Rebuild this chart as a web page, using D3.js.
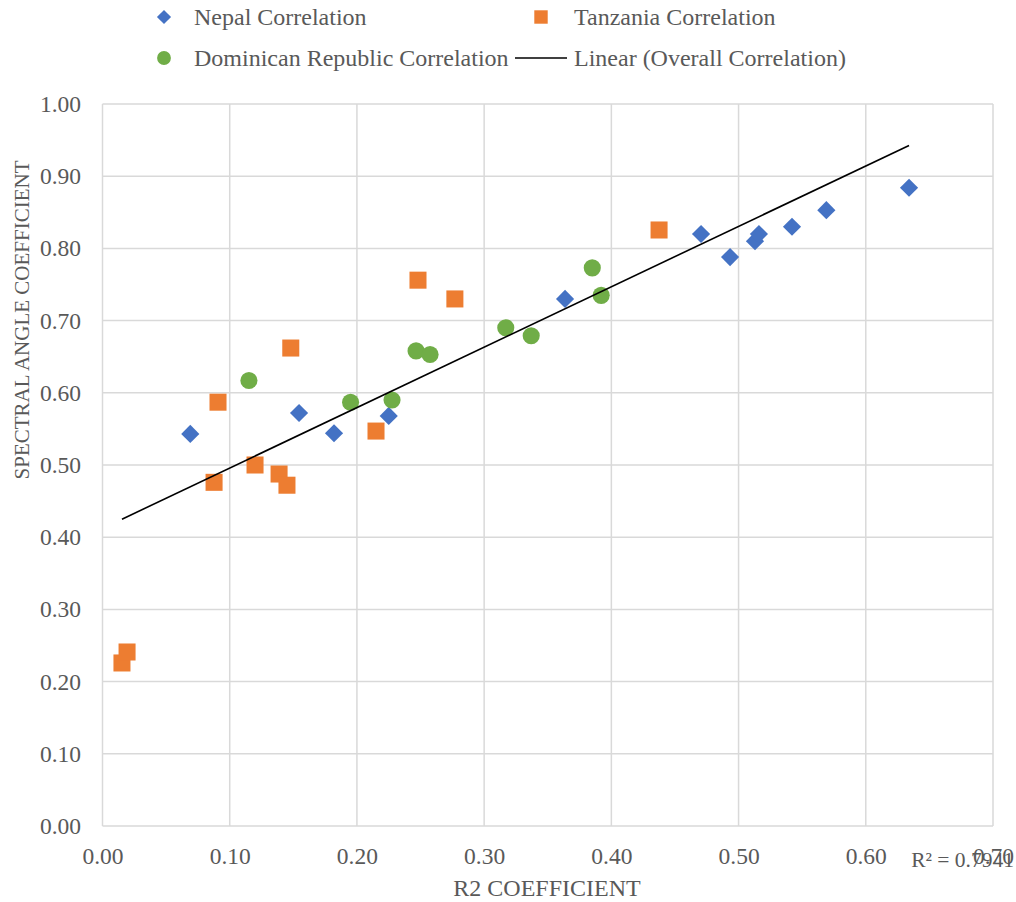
<!DOCTYPE html>
<html><head><meta charset="utf-8">
<script src="https://cdn.jsdelivr.net/npm/d3@7"></script>
<style>
html,body{margin:0;padding:0;background:#fff;}
svg text{font-family:"Liberation Serif","Times New Roman",serif;}
</style></head>
<body>
<svg id="chart" width="1016" height="902"></svg>
<script>
const nepalX = [0.069,0.1545,0.182,0.225,0.3636,0.4705,0.4933,0.5129,0.516,0.542,0.569,0.634];
const nepalY = [0.543,0.572,0.544,0.568,0.730,0.820,0.788,0.810,0.820,0.830,0.853,0.884];
const tanzX = [0.0153,0.0193,0.0877,0.0908,0.1199,0.1388,0.145,0.148,0.215,0.248,0.277,0.4375];
const tanzY = [0.2258,0.241,0.476,0.587,0.500,0.4875,0.472,0.662,0.547,0.756,0.730,0.8255];
const domX = [0.1151,0.195,0.2276,0.2465,0.2575,0.317,0.337,0.385,0.392];
const domY = [0.617,0.587,0.590,0.658,0.653,0.690,0.679,0.773,0.735];
const xTicks = [0,0.1,0.2,0.3,0.4,0.5,0.6,0.7];
const yTicks = [0,0.1,0.2,0.3,0.4,0.5,0.6,0.7,0.8,0.9,1.0];
const seriesNames = ["Nepal Correlation","Tanzania Correlation","Dominican Republic Correlation","Linear (Overall Correlation)"];
const rSquaredLabel = "R² = 0.7941";
const xTitle = "R2 COEFFICIENT";
const yTitle = "SPECTRAL ANGLE COEFFICIENT";

const colors = {nepal:"#4472C4", tanz:"#ED7D31", dom:"#70AD47"};
const svg = d3.select("#chart");
const L=102.5, R=993, T=104, B=826;
const x = d3.scaleLinear().domain([0,0.7]).range([L,R]);
const y = d3.scaleLinear().domain([0,1]).range([B,T]);
const fmt = d3.format(".2f");

// gridlines
const g = svg.append("g");
g.selectAll("line.h").data(yTicks).join("line")
  .attr("x1",L).attr("x2",R).attr("y1",d=>y(d)).attr("y2",d=>y(d))
  .attr("stroke","#d9d9d9").attr("stroke-width",1.5);
g.selectAll("line.v").data(xTicks).join("line")
  .attr("y1",T).attr("y2",B).attr("x1",d=>x(d)).attr("x2",d=>x(d))
  .attr("stroke","#d9d9d9").attr("stroke-width",1.5);

// axes labels via d3 axes
const yAxis = svg.append("g").attr("transform",`translate(${L},0)`)
  .call(d3.axisLeft(y).tickValues(yTicks).tickFormat(fmt).tickSize(0).tickPadding(21.5));
yAxis.select(".domain").remove();
yAxis.selectAll("text").attr("font-size",23.5).attr("fill","#595959");
const xAxis = svg.append("g").attr("transform",`translate(0,${B})`)
  .call(d3.axisBottom(x).tickValues(xTicks).tickFormat(fmt).tickSize(0).tickPadding(21));
xAxis.select(".domain").remove();
xAxis.selectAll("text").attr("font-size",23.5).attr("fill","#595959");

// trendline (least squares over all points)
const allX = nepalX.concat(tanzX, domX);
const allY = nepalY.concat(tanzY, domY);
const mx = d3.mean(allX), my = d3.mean(allY);
let sxy=0,sxx=0;
allX.forEach((v,i)=>{sxy+=(v-mx)*(allY[i]-my);sxx+=(v-mx)*(v-mx);});
const slope=sxy/sxx, icpt=my-slope*mx;
const xMin=d3.min(allX), xMax=d3.max(allX);
const trend=[[xMin,icpt+slope*xMin],[xMax,icpt+slope*xMax]];

// markers
const diamond = d3.symbol().type(d3.symbolSquare).size(165);
const square = d3.symbol().type(d3.symbolSquare).size(290);
const circle = d3.symbol().type(d3.symbolCircle).size(230);
svg.append("g").selectAll("path").data(nepalX.map((v,i)=>[v,nepalY[i]])).join("path")
  .attr("d",diamond).attr("fill",colors.nepal)
  .attr("transform",d=>`translate(${x(d[0])},${y(d[1])}) rotate(45)`);
svg.append("g").selectAll("path").data(tanzX.map((v,i)=>[v,tanzY[i]])).join("path")
  .attr("d",square).attr("fill",colors.tanz)
  .attr("transform",d=>`translate(${x(d[0])},${y(d[1])})`);
svg.append("g").selectAll("path").data(domX.map((v,i)=>[v,domY[i]])).join("path")
  .attr("d",circle).attr("fill",colors.dom)
  .attr("transform",d=>`translate(${x(d[0])},${y(d[1])})`);

svg.append("path").datum(trend)
  .attr("d",d3.line().x(d=>x(d[0])).y(d=>y(d[1])))
  .attr("stroke","#000").attr("stroke-width",1.6).attr("fill","none");

// R² label
svg.append("text").attr("x",1014).attr("y",867).attr("text-anchor","end")
  .attr("font-size",21.5).attr("fill","#595959").text(rSquaredLabel);

// axis titles
svg.append("text").attr("x",547).attr("y",896).attr("text-anchor","middle")
  .attr("font-size",24).attr("fill","#595959").text(xTitle);
svg.append("text").attr("transform","translate(29,320) rotate(-90)").attr("text-anchor","middle")
  .attr("font-size",21).attr("fill","#595959").text(yTitle);

// legend
const leg = svg.append("g");
const legItems = [
  {name:seriesNames[0], sx:164, tx:194, y:17, kind:"diamond"},
  {name:seriesNames[1], sx:541, tx:574, y:17, kind:"square"},
  {name:seriesNames[2], sx:164, tx:194, y:58, kind:"circle"},
  {name:seriesNames[3], sx:541, tx:574, y:58, kind:"line"}
];
legItems.forEach(it=>{
  if(it.kind==="diamond") leg.append("path").attr("d",d3.symbol().type(d3.symbolSquare).size(100)())
    .attr("fill",colors.nepal).attr("transform",`translate(${it.sx},${it.y}) rotate(45)`);
  if(it.kind==="square") leg.append("path").attr("d",d3.symbol().type(d3.symbolSquare).size(180)())
    .attr("fill",colors.tanz).attr("transform",`translate(${it.sx},${it.y})`);
  if(it.kind==="circle") leg.append("path").attr("d",d3.symbol().type(d3.symbolCircle).size(150)())
    .attr("fill",colors.dom).attr("transform",`translate(${it.sx},${it.y})`);
  if(it.kind==="line") leg.append("line").attr("x1",515).attr("x2",567).attr("y1",it.y).attr("y2",it.y)
    .attr("stroke","#000").attr("stroke-width",1.6);
  leg.append("text").attr("x",it.tx).attr("y",it.y).attr("dy","0.35em")
    .attr("font-size",24).attr("fill","#595959").text(it.name);
});
</script>
</body></html>
